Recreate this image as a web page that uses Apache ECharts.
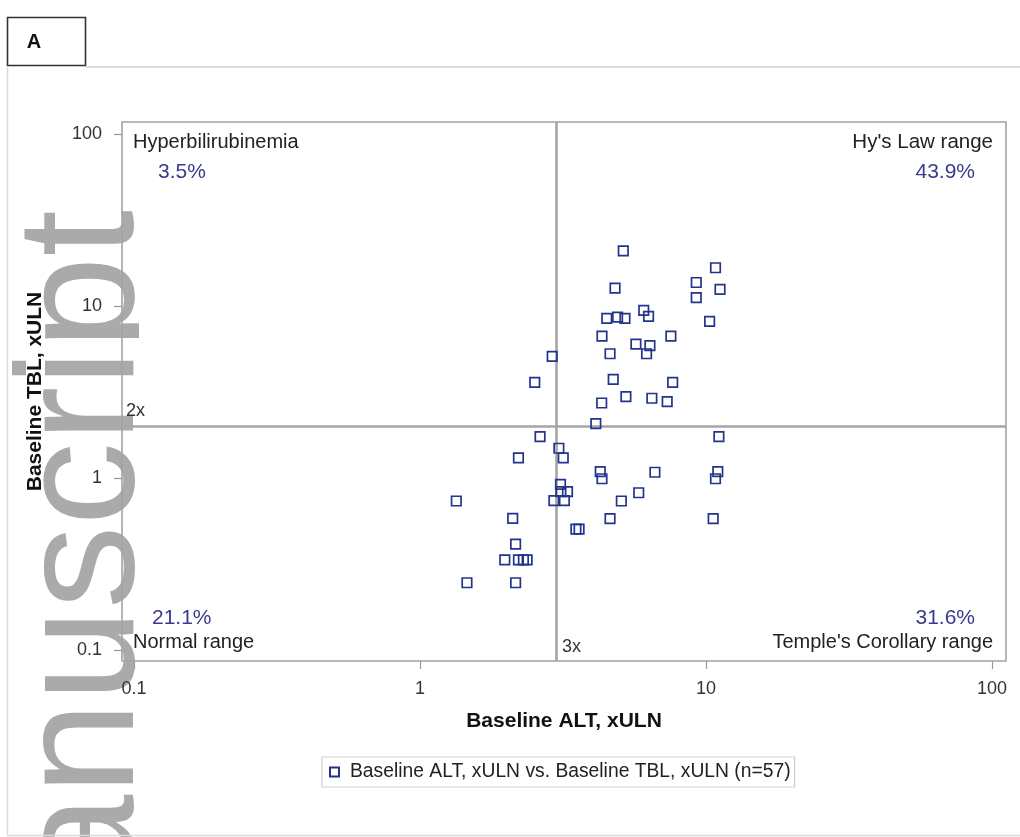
<!DOCTYPE html>
<html>
<head>
<meta charset="utf-8">
<script src="https://cdn.jsdelivr.net/npm/echarts@6/dist/echarts.min.js"></script>
<style>
  html, body { margin: 0; padding: 0; background: #fff; }
  #chart { width: 1020px; height: 837px; }
</style>
</head>
<body>
<div id="chart"></div>
<script>
// Baseline liver tests per patient, in multiples of the upper limit of normal
const altXuln = [5.14, 10.8, 9.25, 9.25, 11.2, 4.81, 6.06, 4.50, 4.91, 5.21,
                 6.30, 10.3, 4.33, 7.54, 5.69, 6.37, 6.20, 4.62, 2.90, 2.52,
                 4.74, 7.65, 5.25, 6.47, 7.32, 4.32, 4.12, 2.63, 11.1, 3.06,
                 2.21, 3.17, 4.27, 4.33, 6.63, 11.0, 10.8, 3.10, 3.11, 3.28,
                 2.94, 3.20, 1.34, 5.06, 5.82, 2.11, 4.62, 10.6, 3.51, 3.60,
                 2.16, 1.98, 2.21, 2.30, 2.37, 1.46, 2.16];
const tblXuln = [20.9, 16.7, 13.7, 11.2, 12.5, 12.7, 9.44, 8.48, 8.63, 8.48,
                 8.71, 8.15, 6.69, 6.69, 6.01, 5.88, 5.28, 5.28, 5.10, 3.60,
                 3.75, 3.60, 2.97, 2.91, 2.78, 2.73, 2.07, 1.74, 1.74, 1.49,
                 1.31, 1.31, 1.09, 0.99, 1.08, 1.09, 0.99, 0.919, 0.833, 0.833,
                 0.738, 0.738, 0.735, 0.735, 0.821, 0.583, 0.580, 0.58, 0.505, 0.505,
                 0.413, 0.334, 0.334, 0.334, 0.334, 0.246, 0.246];

const tickValues = [0.1, 1, 10, 100];
const altCutoff = 3;   // 3x ULN
const tblCutoff = 2;   // 2x ULN
const quadrantNames = ['Hyperbilirubinemia', "Hy's Law range", 'Normal range', "Temple's Corollary range"];

const FONT = '"Liberation Sans", Arial, Helvetica, sans-serif';
const PCT_COLOR = '#3a3a8c';
const MARK_COLOR = '#22348c';

const points = altXuln.map((x, i) => [x, tblXuln[i]]);
const n = points.length;
const pct = test => (100 * points.filter(test).length / n).toFixed(1) + '%';
const pctHyper = pct(p => p[0] < altCutoff && p[1] >= tblCutoff);
const pctHys = pct(p => p[0] >= altCutoff && p[1] >= tblCutoff);
const pctNormal = pct(p => p[0] < altCutoff && p[1] < tblCutoff);
const pctTemple = pct(p => p[0] >= altCutoff && p[1] < tblCutoff);

const seriesName = 'Baseline ALT, xULN vs. Baseline TBL, xULN (n=' + n + ')';

const fmt = v => String(Number(Number(v).toPrecision(3)));

function txt(text, x, y, opts) {
  return {
    type: 'text', x: x, y: y, z: 50,
    style: Object.assign({
      text: text, font: '20px ' + FONT, fill: '#222',
      align: 'left', verticalAlign: 'middle'
    }, opts || {})
  };
}

const chart = echarts.init(document.getElementById('chart'), null, { renderer: 'canvas' });

chart.setOption({
  backgroundColor: '#fff',
  animation: false,
  textStyle: { fontFamily: FONT },
  grid: {
    left: 122, top: 122, width: 884, height: 539,
    show: true, borderColor: '#a3a3a3', borderWidth: 1.6,
    backgroundColor: 'transparent'
  },
  xAxis: {
    type: 'log', logBase: 10, min: 0.0908, max: 112,
    name: 'Baseline ALT, xULN', nameLocation: 'middle', nameGap: 50,
    nameTextStyle: { fontSize: 21, fontWeight: 'bold', color: '#111', fontFamily: FONT },
    axisLine: { show: false },
    axisTick: { show: true, customValues: tickValues, length: 8, lineStyle: { color: '#999', width: 1.2 } },
    axisLabel: { customValues: tickValues, formatter: fmt, margin: 19, fontSize: 18, color: '#333', fontFamily: FONT },
    splitLine: { show: false }, minorTick: { show: false }
  },
  yAxis: {
    type: 'log', logBase: 10, min: 0.0863, max: 117.5,
    name: 'Baseline TBL, xULN', nameLocation: 'middle', nameGap: 76,
    nameTextStyle: { fontSize: 21, fontWeight: 'bold', color: '#111', fontFamily: FONT },
    axisLine: { show: false },
    axisTick: { show: true, customValues: tickValues, length: 8, lineStyle: { color: '#999', width: 1.2 } },
    axisLabel: { customValues: tickValues, formatter: fmt, margin: 20, fontSize: 18, color: '#333', fontFamily: FONT },
    splitLine: { show: false }, minorTick: { show: false }
  },
  legend: {
    left: 322, top: 757,
    padding: [4, 4, 4, 7],
    borderColor: '#cfcfcf', borderWidth: 1.2,
    backgroundColor: '#fff',
    itemWidth: 9, itemHeight: 9, itemGap: 10,
    textStyle: { fontSize: 19.3, color: '#222', fontFamily: FONT, lineHeight: 22, padding: [0, 0, 0, 6] },
    data: [seriesName]
  },
  series: [{
    name: seriesName,
    type: 'scatter',
    symbol: 'rect',
    symbolSize: 9.5,
    data: points,
    itemStyle: { color: 'rgba(0,0,0,0)', borderColor: MARK_COLOR, borderWidth: 1.7, opacity: 1 },
    z: 5,
    markLine: {
      silent: true,
      symbol: 'none',
      animation: false,
      label: { show: false },
      lineStyle: { color: '#a6a6a6', width: 2.6, type: 'solid' },
      data: [{ xAxis: altCutoff }, { yAxis: tblCutoff }]
    }
  }],
  graphic: [
    // rotated "Manuscript" stamp along the left margin
    {
      type: 'text', x: 87, y: 210, rotation: Math.PI / 2, z: -10, silent: true,
      style: {
        text: 'Manuscript', font: '167px ' + FONT,
        fill: 'rgba(100,100,100,0.55)', align: 'right', verticalAlign: 'middle'
      }
    },
    // the stamp stops at the page margin
    { type: 'rect', shape: { x: 139, y: 200, width: 60, height: 637 }, style: { fill: '#fff' }, z: -5, silent: true },
    // panel frame and tag
    { type: 'rect', shape: { x: 7.5, y: 17.5, width: 78, height: 48 }, style: { fill: 'none', stroke: '#333', lineWidth: 1.6 }, z: 40 },
    txt('A', 34, 42, { font: 'bold 20px ' + FONT, fill: '#111', align: 'center' }),
    { type: 'line', shape: { x1: 86, y1: 67, x2: 1020, y2: 67 }, style: { stroke: '#d2d2d2', lineWidth: 1.5 }, z: 40 },
    { type: 'line', shape: { x1: 7.5, y1: 66, x2: 7.5, y2: 835 }, style: { stroke: '#dadada', lineWidth: 1.5 }, z: 40 },
    { type: 'line', shape: { x1: 7, y1: 835.5, x2: 1020, y2: 835.5 }, style: { stroke: '#dadada', lineWidth: 1.5 }, z: 40 },
    // quadrant captions
    txt(quadrantNames[0], 133, 142),
    txt(pctHyper, 158, 172, { font: '21px ' + FONT, fill: PCT_COLOR }),
    txt(quadrantNames[1], 993, 142, { align: 'right', font: '20.5px ' + FONT }),
    txt(pctHys, 975, 172, { font: '21px ' + FONT, fill: PCT_COLOR, align: 'right' }),
    txt(pctNormal, 152, 618, { font: '21px ' + FONT, fill: PCT_COLOR }),
    txt(quadrantNames[2], 133, 642),
    txt(pctTemple, 975, 618, { font: '21px ' + FONT, fill: PCT_COLOR, align: 'right' }),
    txt(quadrantNames[3], 993, 642, { align: 'right' }),
    // reference line tags
    txt(tblCutoff + 'x', 126, 411, { font: '18px ' + FONT, fill: '#333' }),
    txt(altCutoff + 'x', 562, 647, { font: '18px ' + FONT, fill: '#333' })
  ]
});
</script>
</body>
</html>
